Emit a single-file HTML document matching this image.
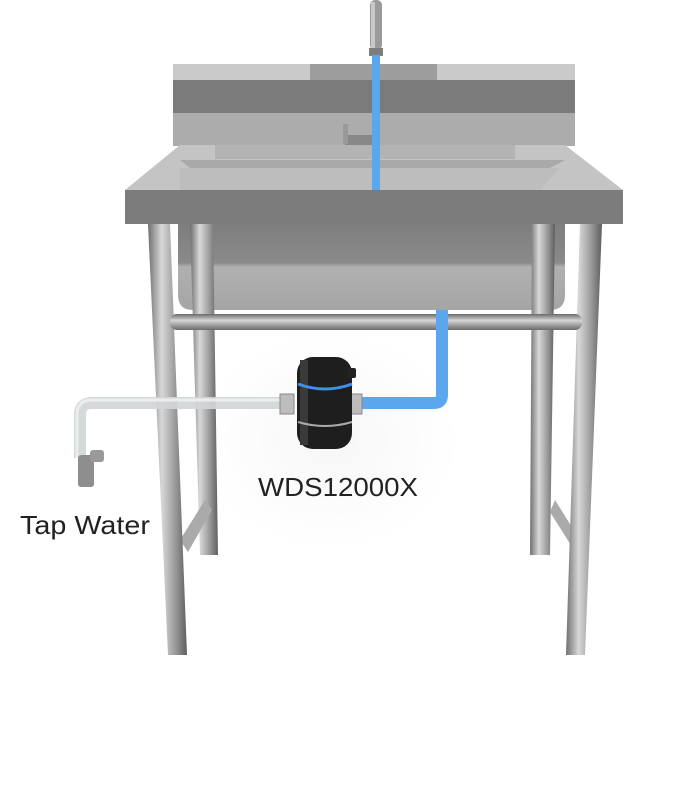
<!DOCTYPE html>
<html><head><style>
html,body{margin:0;padding:0;background:#fff;}
svg{display:block}
</style></head><body>
<svg width="674" height="800" viewBox="0 0 674 800" xmlns="http://www.w3.org/2000/svg">
<defs>
<linearGradient id="leg" x1="0" x2="1" y1="0" y2="0">
<stop offset="0" stop-color="#6f6f6f"/><stop offset="0.35" stop-color="#d8d8d8"/><stop offset="0.7" stop-color="#9a9a9a"/><stop offset="1" stop-color="#5e5e5e"/>
</linearGradient>
<linearGradient id="bar" x1="0" x2="0" y1="0" y2="1">
<stop offset="0" stop-color="#6a6a6a"/><stop offset="0.4" stop-color="#d5d5d5"/><stop offset="1" stop-color="#6a6a6a"/>
</linearGradient>
<linearGradient id="basin" x1="0" x2="0" y1="0" y2="1">
<stop offset="0" stop-color="#7e7e7e"/><stop offset="0.45" stop-color="#8a8a8a"/><stop offset="0.5" stop-color="#b0b0b0"/><stop offset="1" stop-color="#a5a5a5"/>
</linearGradient>
<radialGradient id="glow" cx="0.5" cy="0.5" r="0.5">
<stop offset="0" stop-color="#f7f7f7"/><stop offset="1" stop-color="#ffffff"/>
</radialGradient>
</defs>
<ellipse cx="330" cy="440" rx="130" ry="110" fill="url(#glow)"/>
<!-- backsplash -->
<rect x="173" y="64" width="402" height="82" fill="#acacac"/>
<rect x="173" y="64" width="402" height="16" fill="#cacaca"/>
<rect x="310" y="64" width="127" height="16" fill="#9d9d9d"/>
<rect x="173" y="80" width="402" height="33" fill="#7b7b7b"/>
<!-- faucet -->
<rect x="370" y="0" width="12" height="50" rx="5" fill="#9a9a9a"/>
<rect x="371" y="2" width="4" height="46" fill="#c8c8c8"/>
<rect x="369" y="48" width="14" height="8" fill="#7d7d7d"/>
<rect x="345" y="135" width="30" height="10" fill="#888"/>
<rect x="343" y="124" width="5" height="20" fill="#999"/>
<!-- rim top -->
<polygon points="125,190 623,190 565,145 180,145" fill="#c4c4c4"/>
<polygon points="180,160 565,160 550,168 190,168" fill="#a9a9a9"/>
<polygon points="180,168 560,168 540,190 180,190" fill="#bdbdbd"/>
<rect x="215" y="145" width="300" height="14" fill="#b3b3b3"/>
<rect x="372" y="55" width="8" height="136" fill="#5aa7ee"/>
<!-- front face -->
<rect x="125" y="190" width="498" height="34" fill="#7c7c7c"/>
<!-- basin -->
<path d="M178,224 H565 V295 Q565,310 550,310 H193 Q178,310 178,295 Z" fill="url(#basin)"/>
<!-- inner legs -->
<polygon points="190,224 213,224 218,555 200,555" fill="url(#leg)"/>
<polygon points="532,224 555,224 550,555 530,555" fill="url(#leg)"/>
<!-- diagonal braces -->
<polygon points="180,540 205,500 212,510 188,552" fill="#aaa"/>
<polygon points="555,500 580,540 574,550 550,512" fill="#aaa"/>
<!-- outer legs -->
<polygon points="148,224 170,224 187,655 168,655" fill="url(#leg)"/>
<polygon points="580,224 602,224 585,655 566,655" fill="url(#leg)"/>
<!-- crossbar -->
<rect x="170" y="314" width="412" height="16" rx="7" fill="url(#bar)"/>
<!-- gray pipe -->
<path d="M285,403 H92 Q80,403 80,415 V458" stroke="#d3d6d6" stroke-width="12" fill="none" opacity="0.92"/>
<path d="M285,400 H92 Q77,400 77,415 V458" stroke="#eef0f0" stroke-width="3" fill="none" opacity="0.9"/>
<rect x="78" y="455" width="16" height="32" rx="3" fill="#8e8e8e"/>
<rect x="90" y="450" width="14" height="12" rx="3" fill="#9a9a9a"/>
<!-- blue pipe -->
<path d="M442,310 V395 Q442,403 434,403 H355" stroke="#5aa7ee" stroke-width="12" fill="none"/>
<!-- fittings -->
<rect x="280" y="394" width="14" height="20" fill="#bdbdbd" stroke="#888" stroke-width="1"/>
<rect x="348" y="394" width="14" height="20" fill="#bdbdbd" stroke="#888" stroke-width="1"/>
<!-- filter -->
<rect x="297" y="357" width="55" height="92" rx="16" fill="#1e1e1e"/>
<rect x="300" y="360" width="8" height="85" fill="#3a3a3a"/>
<path d="M298,384 Q325,394 352,384" stroke="#3f8ff0" stroke-width="3" fill="none"/>
<path d="M298,422 Q325,430 352,422" stroke="#aaa" stroke-width="2" fill="none"/>
<rect x="348" y="368" width="8" height="10" rx="2" fill="#222"/>
<!-- labels -->
<text x="258" y="496" font-family="Liberation Sans, sans-serif" font-size="26" fill="#222" textLength="160" lengthAdjust="spacingAndGlyphs">WDS12000X</text>
<text x="20" y="534" font-family="Liberation Sans, sans-serif" font-size="26" fill="#222" textLength="130" lengthAdjust="spacingAndGlyphs">Tap Water</text>
</svg>
</body></html>
